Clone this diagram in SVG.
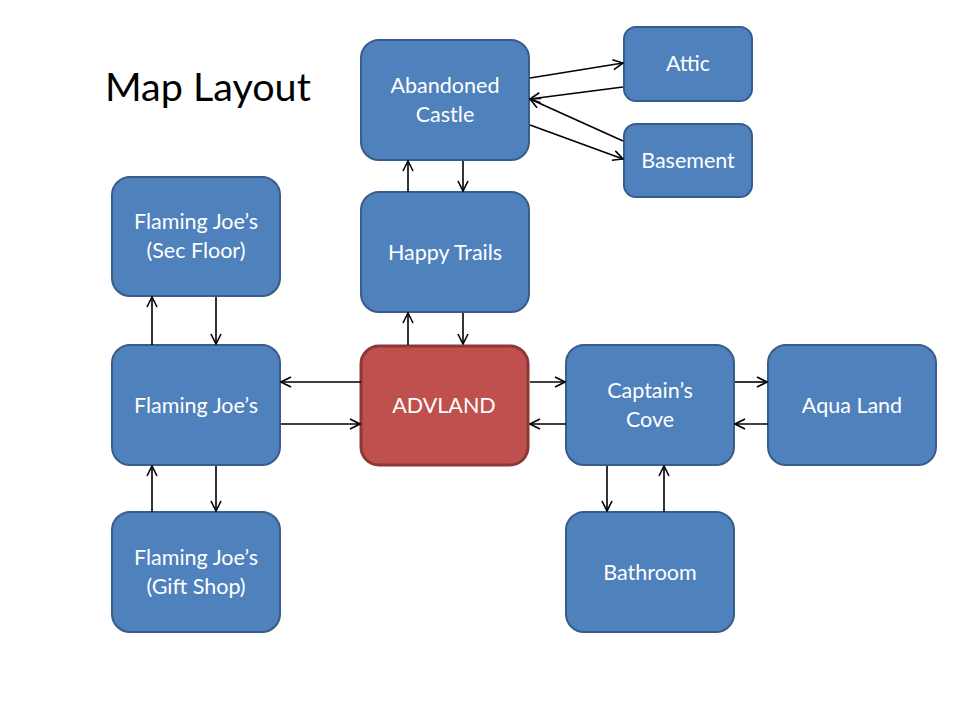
<svg xmlns="http://www.w3.org/2000/svg" width="960" height="720" viewBox="0 0 960 720">
<style>
.b{fill:#4F81BD;stroke:#385D8A;stroke-width:2}
.r{fill:#C0504D;stroke:#8C3836;stroke-width:3}
.t{font-family:Lato,"Liberation Sans",sans-serif;font-size:21.5px;fill:#fff;text-anchor:middle}
.c line{stroke:#000;stroke-width:1.6;marker-end:url(#a)}
</style>
<defs>
<marker id="a" viewBox="0 0 12 12" refX="11" refY="6" markerWidth="12" markerHeight="12" markerUnits="userSpaceOnUse" orient="auto">
<path d="M1,1 L11,6 L1,11" fill="none" stroke="#000" stroke-width="1.6"/>
</marker>
</defs>
<rect width="960" height="720" fill="#fff"/>
<text x="105" y="101" style="font-family:Lato,'Liberation Sans',sans-serif;font-size:39.5px;fill:#000">Map Layout</text>
<g id="castle"><rect class="b" x="361" y="40" width="168" height="120" rx="18"/><text class="t" x="445" y="93">Abandoned</text><text class="t" x="445" y="122">Castle</text></g>
<g id="attic"><rect class="b" x="624" y="27" width="128" height="74" rx="12"/><text class="t" x="688" y="71">Attic</text></g>
<g id="basement"><rect class="b" x="624" y="124" width="128" height="73" rx="12"/><text class="t" x="688" y="168">Basement</text></g>
<g id="happy"><rect class="b" x="361" y="192" width="168" height="120" rx="18"/><text class="t" x="445" y="260">Happy Trails</text></g>
<g id="secfloor"><rect class="b" x="112" y="177" width="168" height="119" rx="18"/><text class="t" x="196" y="229">Flaming Joe’s</text><text class="t" x="196" y="258">(Sec Floor)</text></g>
<g id="joes"><rect class="b" x="112" y="345" width="168" height="120" rx="18"/><text class="t" x="196" y="413">Flaming Joe’s</text></g>
<g id="advland"><rect class="r" x="361" y="346" width="167" height="119" rx="18"/><text class="t" x="444" y="413">ADVLAND</text></g>
<g id="cove"><rect class="b" x="566" y="345" width="168" height="120" rx="18"/><text class="t" x="650" y="398">Captain’s</text><text class="t" x="650" y="427">Cove</text></g>
<g id="aqua"><rect class="b" x="768" y="345" width="168" height="120" rx="18"/><text class="t" x="852" y="413">Aqua Land</text></g>
<g id="giftshop"><rect class="b" x="112" y="512" width="168" height="120" rx="18"/><text class="t" x="196" y="565">Flaming Joe’s</text><text class="t" x="196" y="594">(Gift Shop)</text></g>
<g id="bathroom"><rect class="b" x="566" y="512" width="168" height="120" rx="18"/><text class="t" x="650" y="580">Bathroom</text></g>
<g class="c" id="connectors">
<line x1="530" y1="78" x2="623" y2="63"/>
<line x1="623" y1="87" x2="530" y2="99"/>
<line x1="623" y1="141" x2="530" y2="99"/>
<line x1="530" y1="125" x2="623" y2="159"/>
<line x1="408" y1="192" x2="408" y2="161"/>
<line x1="463" y1="161" x2="463" y2="191"/>
<line x1="408" y1="345" x2="408" y2="313"/>
<line x1="463" y1="313" x2="463" y2="344"/>
<line x1="361" y1="382" x2="281" y2="382"/>
<line x1="281" y1="424" x2="360" y2="424"/>
<line x1="530" y1="382" x2="565" y2="382"/>
<line x1="566" y1="424" x2="530" y2="424"/>
<line x1="735" y1="382" x2="767" y2="382"/>
<line x1="768" y1="424" x2="735" y2="424"/>
<line x1="607" y1="466" x2="607" y2="511"/>
<line x1="664" y1="512" x2="664" y2="466"/>
<line x1="152" y1="345" x2="152" y2="297"/>
<line x1="216" y1="297" x2="216" y2="344"/>
<line x1="216" y1="466" x2="216" y2="511"/>
<line x1="152" y1="512" x2="152" y2="466"/>
</g>
</svg>
